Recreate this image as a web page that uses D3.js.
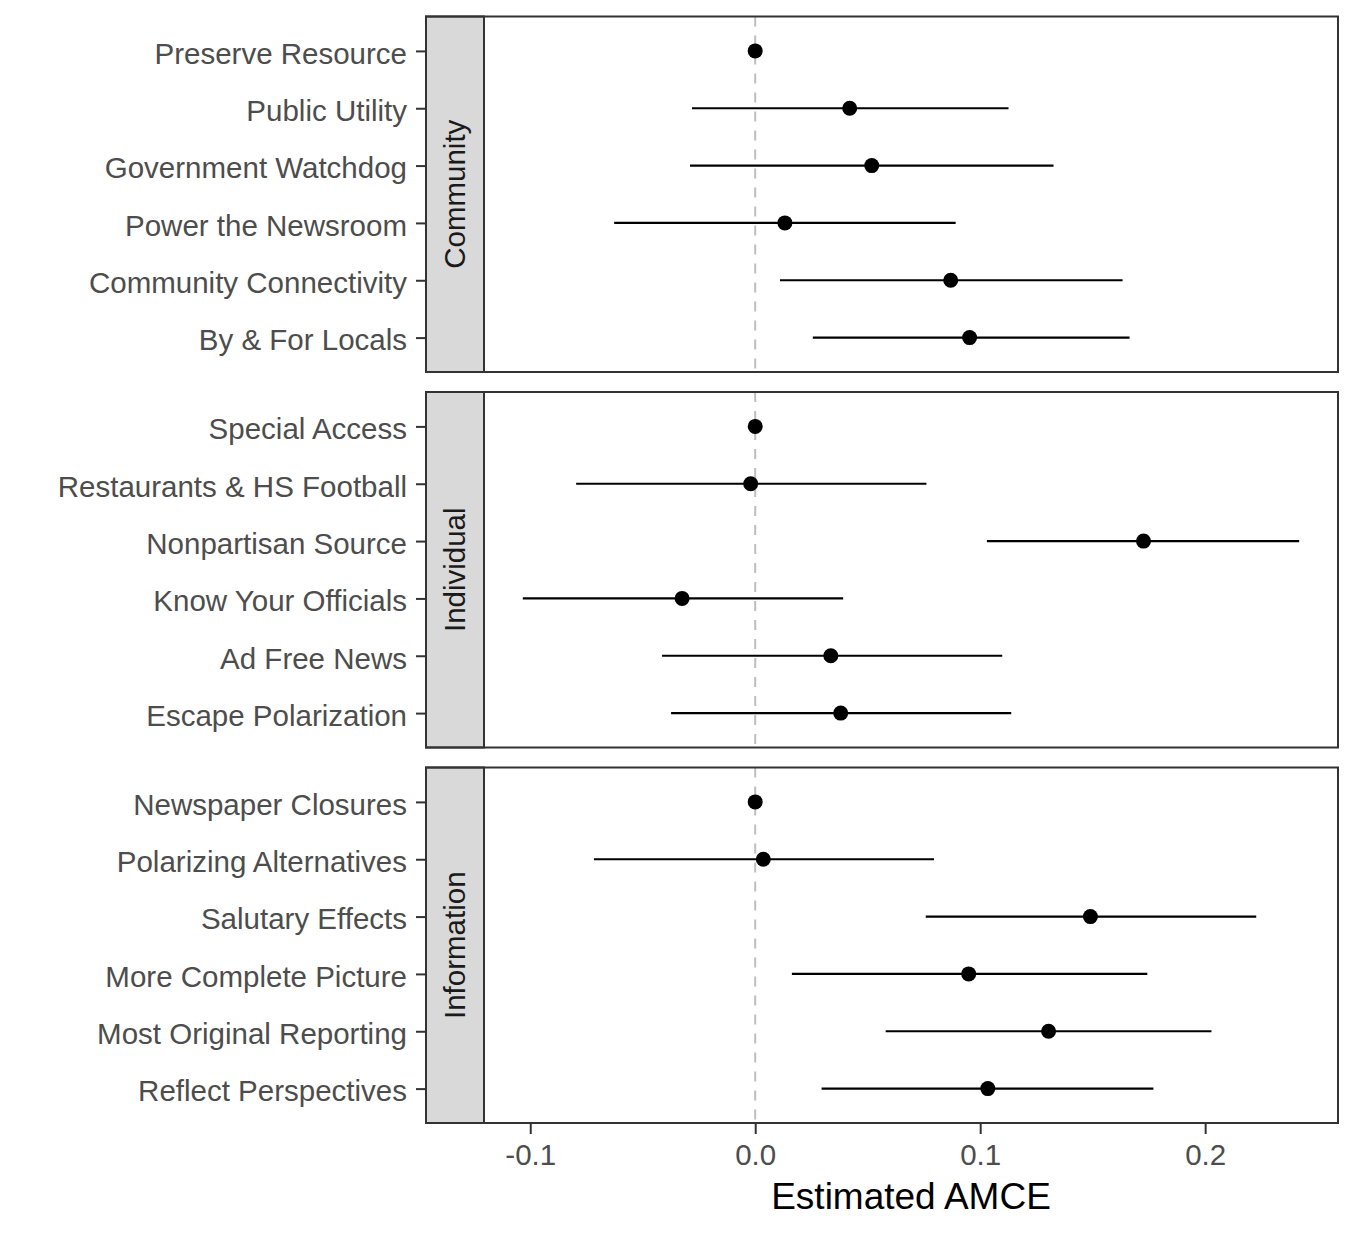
<!DOCTYPE html>
<html lang="en">
<head>
  <meta charset="UTF-8">
  <title>AMCE dot plot</title>
  <style>
    body { margin: 0; background: #fff; }
    svg { font-family: "Liberation Sans", Arial, sans-serif; }
    .axis path.domain { display: none; }
    .axis line { stroke: #333; stroke-width: 2; }
    .axis text { fill: #4d4d4d; font-size: 29.5px; }
  </style>
</head>
<body>
  <svg width="1358" height="1234"></svg>
  <script src="https://cdn.jsdelivr.net/npm/d3@7"></script>
  <script>
    // data
    var facets = ["Community", "Individual", "Information"];
    var terms = [
      "Preserve Resource", "Public Utility", "Government Watchdog", "Power the Newsroom", "Community Connectivity", "By & For Locals",
      "Special Access", "Restaurants & HS Football", "Nonpartisan Source", "Know Your Officials", "Ad Free News", "Escape Polarization",
      "Newspaper Closures", "Polarizing Alternatives", "Salutary Effects", "More Complete Picture", "Most Original Reporting", "Reflect Perspectives"
    ];
    var termFacet = [0, 0, 0, 0, 0, 0, 1, 1, 1, 1, 1, 1, 2, 2, 2, 2, 2, 2];
    var estimate = [0, 0.0420, 0.0518, 0.0132, 0.0869, 0.0953,
                    0, -0.0020, 0.1726, -0.0325, 0.0336, 0.0380,
                    0, 0.0036, 0.1490, 0.0949, 0.1304, 0.1034];
    var lower = [0, -0.0281, -0.0290, -0.0627, 0.0110, 0.0256,
                 0, -0.0796, 0.1030, -0.1033, -0.0414, -0.0374,
                 0, -0.0717, 0.0758, 0.0163, 0.0580, 0.0295];
    var upper = [0, 0.1126, 0.1326, 0.0891, 0.1633, 0.1664,
                 0, 0.0761, 0.2418, 0.0391, 0.1098, 0.1138,
                 0, 0.0795, 0.2227, 0.1743, 0.2028, 0.1770];
    var xTicks = [-0.1, 0.0, 0.1, 0.2];

    var data = terms.map(function(t, i) {
      return {term: t, facet: facets[termFacet[i]], est: estimate[i], lo: lower[i], hi: upper[i]};
    });

    var svg = d3.select("svg");
    var stripLeft = 426, stripW = 58,
      plotLeft = stripLeft + stripW, plotRight = 1338,
      top0 = 16.5, panelH = 355.5, gap = 20;

    // x scale with ggplot-like 5% expansion
    var xmin = d3.min(data, function(d) { return d.lo; }),
      xmax = d3.max(data, function(d) { return d.hi; }),
      pad = (xmax - xmin) * 0.05;
    var x = d3.scaleLinear().domain([xmin - pad, xmax + pad]).range([plotLeft, plotRight]);

    facets.forEach(function(f, fi) {
      var rows = data.filter(function(d) { return d.facet === f; });
      var top = top0 + fi * (panelH + gap);
      var y = d3.scalePoint().domain(rows.map(function(d) { return d.term; }))
        .range([top, top + panelH]).padding(0.6);

      var g = svg.append("g");

      // zero line
      g.append("line")
        .attr("x1", x(0)).attr("x2", x(0))
        .attr("y1", top).attr("y2", top + panelH)
        .attr("stroke", "#bebebe").attr("stroke-width", 2)
        .attr("stroke-dasharray", "10,9");

      // error bars
      g.selectAll(".ci")
        .data(rows)
        .enter()
        .append("line")
        .attr("class", "ci")
        .attr("x1", function(d) { return x(d.lo); })
        .attr("x2", function(d) { return x(d.hi); })
        .attr("y1", function(d) { return y(d.term); })
        .attr("y2", function(d) { return y(d.term); })
        .attr("stroke", "#000").attr("stroke-width", 2.2);

      // points
      g.selectAll(".pt")
        .data(rows)
        .enter()
        .append("circle")
        .attr("class", "pt")
        .attr("cx", function(d) { return x(d.est); })
        .attr("cy", function(d) { return y(d.term); })
        .attr("r", 7.5)
        .attr("fill", "#000");

      // strip
      g.append("rect")
        .attr("x", stripLeft).attr("y", top)
        .attr("width", stripW).attr("height", panelH)
        .attr("fill", "#d9d9d9").attr("stroke", "#333").attr("stroke-width", 2);
      g.append("text")
        .attr("transform", "translate(" + (stripLeft + stripW / 2) + "," + (top + panelH / 2) + ") rotate(-90)")
        .attr("text-anchor", "middle")
        .attr("dy", "0.35em")
        .attr("fill", "#1a1a1a")
        .style("font-size", "29.5px")
        .text(f);

      // panel border
      g.append("rect")
        .attr("x", stripLeft).attr("y", top)
        .attr("width", plotRight - stripLeft).attr("height", panelH)
        .attr("fill", "none").attr("stroke", "#333").attr("stroke-width", 2);

      // y axis
      g.append("g")
        .attr("class", "axis axis--y")
        .attr("transform", "translate(" + stripLeft + ",0)")
        .call(d3.axisLeft(y).tickSize(10).tickPadding(9))
        .selectAll("text").attr("dy", "0.42em");

      // x axis on last panel
      if (fi === facets.length - 1) {
        g.append("g")
          .attr("class", "axis axis--x")
          .attr("transform", "translate(0," + (top + panelH) + ")")
          .call(d3.axisBottom(x).tickValues(xTicks).tickSize(11).tickPadding(10)
            .tickFormat(function(d) { return d.toFixed(1); }));
      }
    });

    // axis title
    svg.append("text")
      .attr("x", (plotLeft + plotRight) / 2)
      .attr("y", 1209)
      .attr("text-anchor", "middle")
      .attr("fill", "#000")
      .style("font-size", "37px")
      .text("Estimated AMCE");
  </script>
</body>
</html>
